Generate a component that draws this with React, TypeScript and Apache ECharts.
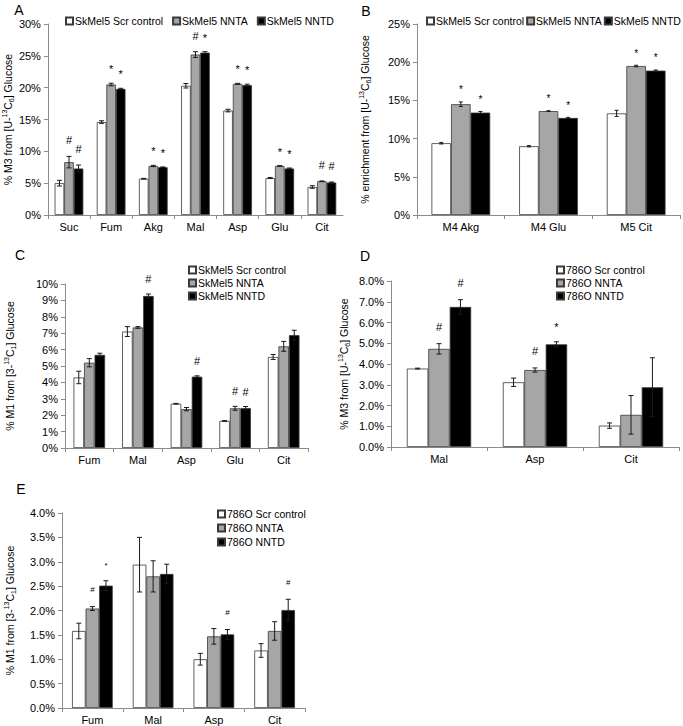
import React, { useEffect, useRef } from 'react';
import * as echarts from 'echarts';

const FONT = '"Liberation Sans", Arial, Helvetica, sans-serif';

// ---------- Names ----------
const skNames = ['SkMel5 Scr control', 'SkMel5 NNTA', 'SkMel5 NNTD'];
const rcNames = ['786O Scr control', '786O NNTA', '786O NNTD'];

// ---------- Panel A ----------
const catsA = ['Suc', 'Fum', 'Akg', 'Mal', 'Asp', 'Glu', 'Cit'];
const aScr = [5.0, 14.6, 5.7, 20.3, 16.4, 5.8, 4.4];
const aScrErr = [0.45, 0.2, 0.05, 0.35, 0.2, 0.08, 0.2];
const aNnta = [8.3, 20.5, 7.7, 25.2, 20.6, 7.7, 5.3];
const aNntaErr = [0.9, 0.2, 0.1, 0.45, 0.08, 0.05, 0.05];
const aNntd = [7.3, 19.8, 7.5, 25.5, 20.4, 7.3, 5.1];
const aNntdErr = [0.55, 0.1, 0.05, 0.15, 0.15, 0.08, 0.08];
const aMarksScr = ['', '', '', '', '', '', ''];
const aMarksNnta = ['#', '*', '*', '#', '*', '*', '#'];
const aMarksNntd = ['#', '*', '*', '*', '*', '*', '#'];

// ---------- Panel B ----------
const catsB = ['M4 Akg', 'M4 Glu', 'M5 Cit'];
const bScr = [9.4, 9.0, 13.3];
const bScrErr = [0.1, 0.08, 0.4];
const bNnta = [14.5, 13.6, 19.5];
const bNntaErr = [0.3, 0.05, 0.1];
const bNntd = [13.4, 12.7, 18.9];
const bNntdErr = [0.15, 0.08, 0.08];
const bMarksScr = ['', '', ''];
const bMarksNnta = ['*', '*', '*'];
const bMarksNntd = ['*', '*', '*'];

// ---------- Panel C ----------
const catsC = ['Fum', 'Mal', 'Asp', 'Glu', 'Cit'];
const cScr = [4.3, 7.1, 2.7, 1.65, 5.55];
const cScrErr = [0.38, 0.3, 0.02, 0.02, 0.15];
const cNnta = [5.2, 7.35, 2.37, 2.42, 6.2];
const cNntaErr = [0.25, 0.05, 0.1, 0.12, 0.3];
const cNntd = [5.68, 9.27, 4.35, 2.43, 6.88];
const cNntdErr = [0.1, 0.12, 0.05, 0.1, 0.3];
const cMarksScr = ['', '', '', '', ''];
const cMarksNnta = ['', '', '', '#', ''];
const cMarksNntd = ['', '#', '#', '#', ''];

// ---------- Panel D ----------
const catsD = ['Mal', 'Asp', 'Cit'];
const dScr = [3.78, 3.12, 1.03];
const dScrErr = [0.02, 0.2, 0.13];
const dNnta = [4.73, 3.71, 1.55];
const dNntaErr = [0.25, 0.1, 0.93];
const dNntd = [6.75, 4.95, 2.88];
const dNntdErr = [0.35, 0.12, 1.42];
const dMarksScr = ['', '', ''];
const dMarksNnta = ['#', '#', ''];
const dMarksNntd = ['#', '*', ''];

// ---------- Panel E ----------
const catsE = ['Fum', 'Mal', 'Asp', 'Cit'];
const eScr = [1.58, 2.94, 1.0, 1.18];
const eScrErr = [0.16, 0.56, 0.12, 0.14];
const eNnta = [2.04, 2.7, 1.47, 1.58];
const eNntaErr = [0.04, 0.32, 0.16, 0.19];
const eNntd = [2.51, 2.75, 1.51, 2.01];
const eNntdErr = [0.1, 0.2, 0.1, 0.22];
const eMarksScr = ['', '', '', ''];
const eMarksNnta = ['#', '', '', ''];
const eMarksNntd = ['*', '', '#', '#'];

const COLORS = ['#ffffff', '#a6a6a6', '#000000'];

type Panel = {
  cats: string[];
  vals: number[][];
  errs: number[][];
  marks: string[][];
  names: string[];
  max: number;
  interval: number;
  dec: number;
  grid: { left: number; top: number; width: number; height: number };
  gap: number;
  cap: number;
  yName: string;
  nameGap: number;
  markSize: number;
  markGap: number;
  legend: any;
};

const panels: Panel[] = [
  {
    cats: catsA, vals: [aScr, aNnta, aNntd], errs: [aScrErr, aNntaErr, aNntdErr],
    marks: [aMarksScr, aMarksNnta, aMarksNntd], names: skNames,
    max: 30, interval: 5, dec: 0,
    grid: { left: 46, top: 24, width: 297, height: 191 }, gap: 0.32, cap: 5,
    yName: '% M3 from [U-{sup|13}C{sub|6}] Glucose', nameGap: 31,
    markSize: 11, markGap: 16,
    legend: { orient: 'horizontal', left: 65, top: 15, itemGap: 9 },
  },
  {
    cats: catsB, vals: [bScr, bNnta, bNntd], errs: [bScrErr, bNntaErr, bNntdErr],
    marks: [bMarksScr, bMarksNnta, bMarksNntd], names: skNames,
    max: 25, interval: 5, dec: 0,
    grid: { left: 417, top: 24, width: 263, height: 191 }, gap: 0.33, cap: 4,
    yName: '% enrichment from [U-{sup|13}C{sub|6}] Glucose', nameGap: 45,
    markSize: 10, markGap: 14,
    legend: { orient: 'horizontal', left: 426, top: 15, itemGap: 2 },
  },
  {
    cats: catsC, vals: [cScr, cNnta, cNntd], errs: [cScrErr, cNntaErr, cNntdErr],
    marks: [cMarksScr, cMarksNnta, cMarksNntd], names: skNames,
    max: 10, interval: 1, dec: 0,
    grid: { left: 65, top: 284, width: 243, height: 164 }, gap: 0.35, cap: 5,
    yName: '% M1 from [3-{sup|13}C{sub|1}] Glucose', nameGap: 48,
    markSize: 11, markGap: 15,
    legend: { orient: 'vertical', left: 188, top: 264, itemGap: 1 },
  },
  {
    cats: catsD, vals: [dScr, dNnta, dNntd], errs: [dScrErr, dNntaErr, dNntdErr],
    marks: [dMarksScr, dMarksNnta, dMarksNntd], names: rcNames,
    max: 8, interval: 1, dec: 1,
    grid: { left: 391, top: 281, width: 288, height: 166 }, gap: 0.33, cap: 5,
    yName: '% M3 from [U-{sup|13}C{sub|6}] Glucose', nameGap: 40,
    markSize: 11, markGap: 17,
    legend: { orient: 'vertical', left: 556, top: 264, itemGap: 1 },
  },
  {
    cats: catsE, vals: [eScr, eNnta, eNntd], errs: [eScrErr, eNntaErr, eNntdErr],
    marks: [eMarksScr, eMarksNnta, eMarksNntd], names: rcNames,
    max: 4, interval: 0.5, dec: 1,
    grid: { left: 62, top: 513, width: 243, height: 195 }, gap: 0.33, cap: 5,
    yName: '% M1 from [3-{sup|13}C{sub|1}] Glucose', nameGap: 45,
    markSize: 8, markGap: 17,
    legend: { orient: 'vertical', left: 217, top: 508, itemGap: 2 },
  },
];

const letters = [
  { t: 'A', x: 19, y: 10 },
  { t: 'B', x: 366, y: 11 },
  { t: 'C', x: 20, y: 255 },
  { t: 'D', x: 365, y: 256 },
  { t: 'E', x: 21, y: 489 },
];

function buildOption() {
  const grid: any[] = [];
  const xAxis: any[] = [];
  const yAxis: any[] = [];
  const series: any[] = [];
  const legend: any[] = [];

  panels.forEach((p, pi) => {
    grid.push({ ...p.grid, containLabel: false });
    xAxis.push({
      type: 'category',
      gridIndex: pi,
      data: p.cats,
      axisLine: { show: true, lineStyle: { color: '#8c8c8c', width: 1 } },
      axisTick: { show: true, length: 4, lineStyle: { color: '#8c8c8c' } },
      axisLabel: { color: '#000', fontSize: 11, fontFamily: FONT, margin: 6, interval: 0 },
      splitLine: { show: false },
    });
    yAxis.push({
      type: 'value',
      gridIndex: pi,
      min: 0,
      max: p.max,
      interval: p.interval,
      axisLine: { show: true, lineStyle: { color: '#8c8c8c', width: 1 } },
      axisTick: { show: true, length: 4, lineStyle: { color: '#8c8c8c' } },
      axisLabel: {
        color: '#000', fontSize: 11, fontFamily: FONT, margin: 7,
        formatter: (v: number) => v.toFixed(p.dec) + '%',
      },
      splitLine: { show: false },
      name: p.yName,
      nameLocation: 'middle',
      nameGap: p.nameGap,
      nameTextStyle: {
        color: '#000', fontSize: 10.5, fontFamily: FONT, lineHeight: 14,
        rich: {
          sup: { fontSize: 7, fontFamily: FONT, color: '#000', verticalAlign: 'top', lineHeight: 14 },
          sub: { fontSize: 7, fontFamily: FONT, color: '#000', verticalAlign: 'bottom', lineHeight: 12 },
        },
      },
    });
    p.vals.forEach((vals, si) => {
      series.push({
        type: 'bar',
        name: p.names[si],
        xAxisIndex: pi,
        yAxisIndex: pi,
        data: vals,
        barGap: '0%',
        barCategoryGap: Math.round(p.gap * 100) + '%',
        itemStyle: { color: COLORS[si], borderColor: '#3a3a3a', borderWidth: 0.8 },
        emphasis: { disabled: true },
      });
    });
    const errData: number[][] = [];
    p.vals.forEach((vals, si) => {
      vals.forEach((v, ci) => errData.push([ci, si, v, p.errs[si][ci]]));
    });
    series.push({
      type: 'custom',
      name: 'err' + pi,
      xAxisIndex: pi,
      yAxisIndex: pi,
      data: errData,
      encode: { x: 0, y: 2 },
      z: 5,
      silent: true,
      renderItem: (params: any, api: any) => {
        const ci = api.value(0) as number;
        const si = api.value(1) as number;
        const v = api.value(2) as number;
        const e = api.value(3) as number;
        const band = api.size([1, 0])[0];
        const bw = (band * (1 - p.gap)) / 3;
        const base = api.coord([ci, v]);
        const x = base[0] + (si - 1) * bw;
        const yT = api.coord([ci, v + e])[1];
        const yB = api.coord([ci, Math.max(v - e, 0)])[1];
        const c = p.cap / 2;
        const st = { stroke: '#1a1a1a', lineWidth: 1 };
        const children: any[] = [
          { type: 'line', shape: { x1: x, y1: yT, x2: x, y2: yB }, style: st },
          { type: 'line', shape: { x1: x - c, y1: yT, x2: x + c, y2: yT }, style: st },
          { type: 'line', shape: { x1: x - c, y1: yB, x2: x + c, y2: yB }, style: st },
        ];
        const m = p.marks[si][ci];
        if (m) {
          children.push({
            type: 'text',
            x,
            y: yT - p.markGap + (m === '*' ? 2 : 0),
            style: {
              text: m,
              fill: '#000',
              fontSize: p.markSize,
              fontFamily: FONT,
              align: 'center',
              verticalAlign: 'middle',
            },
          });
        }
        return { type: 'group', children };
      },
    });
    legend.push({
      ...p.legend,
      data: p.names,
      itemWidth: 7,
      itemHeight: 7,
      icon: 'rect',
      padding: 0,
      selectedMode: false,
      textStyle: { color: '#000', fontSize: 10.5, fontFamily: FONT, lineHeight: 12, padding: [0, 0, 0, -3] },
    });
  });

  const graphic = letters.map((l) => ({
    type: 'text',
    x: l.x,
    y: l.y,
    style: {
      text: l.t,
      fill: '#000',
      fontSize: 14,
      fontFamily: FONT,
      align: 'center',
      verticalAlign: 'middle',
    },
  }));

  return {
    animation: false,
    backgroundColor: '#ffffff',
    grid,
    xAxis,
    yAxis,
    series,
    legend,
    graphic,
  };
}

export default function App() {
  const ref = useRef<HTMLDivElement>(null);
  useEffect(() => {
    if (!ref.current) return;
    const chart = echarts.init(ref.current, undefined, { renderer: 'svg' });
    chart.setOption(buildOption() as any);
    return () => chart.dispose();
  }, []);
  return (
    <div
      ref={ref}
      style={{ position: 'absolute', left: 0, top: 0, width: 683, height: 726, background: '#fff' }}
    />
  );
}
